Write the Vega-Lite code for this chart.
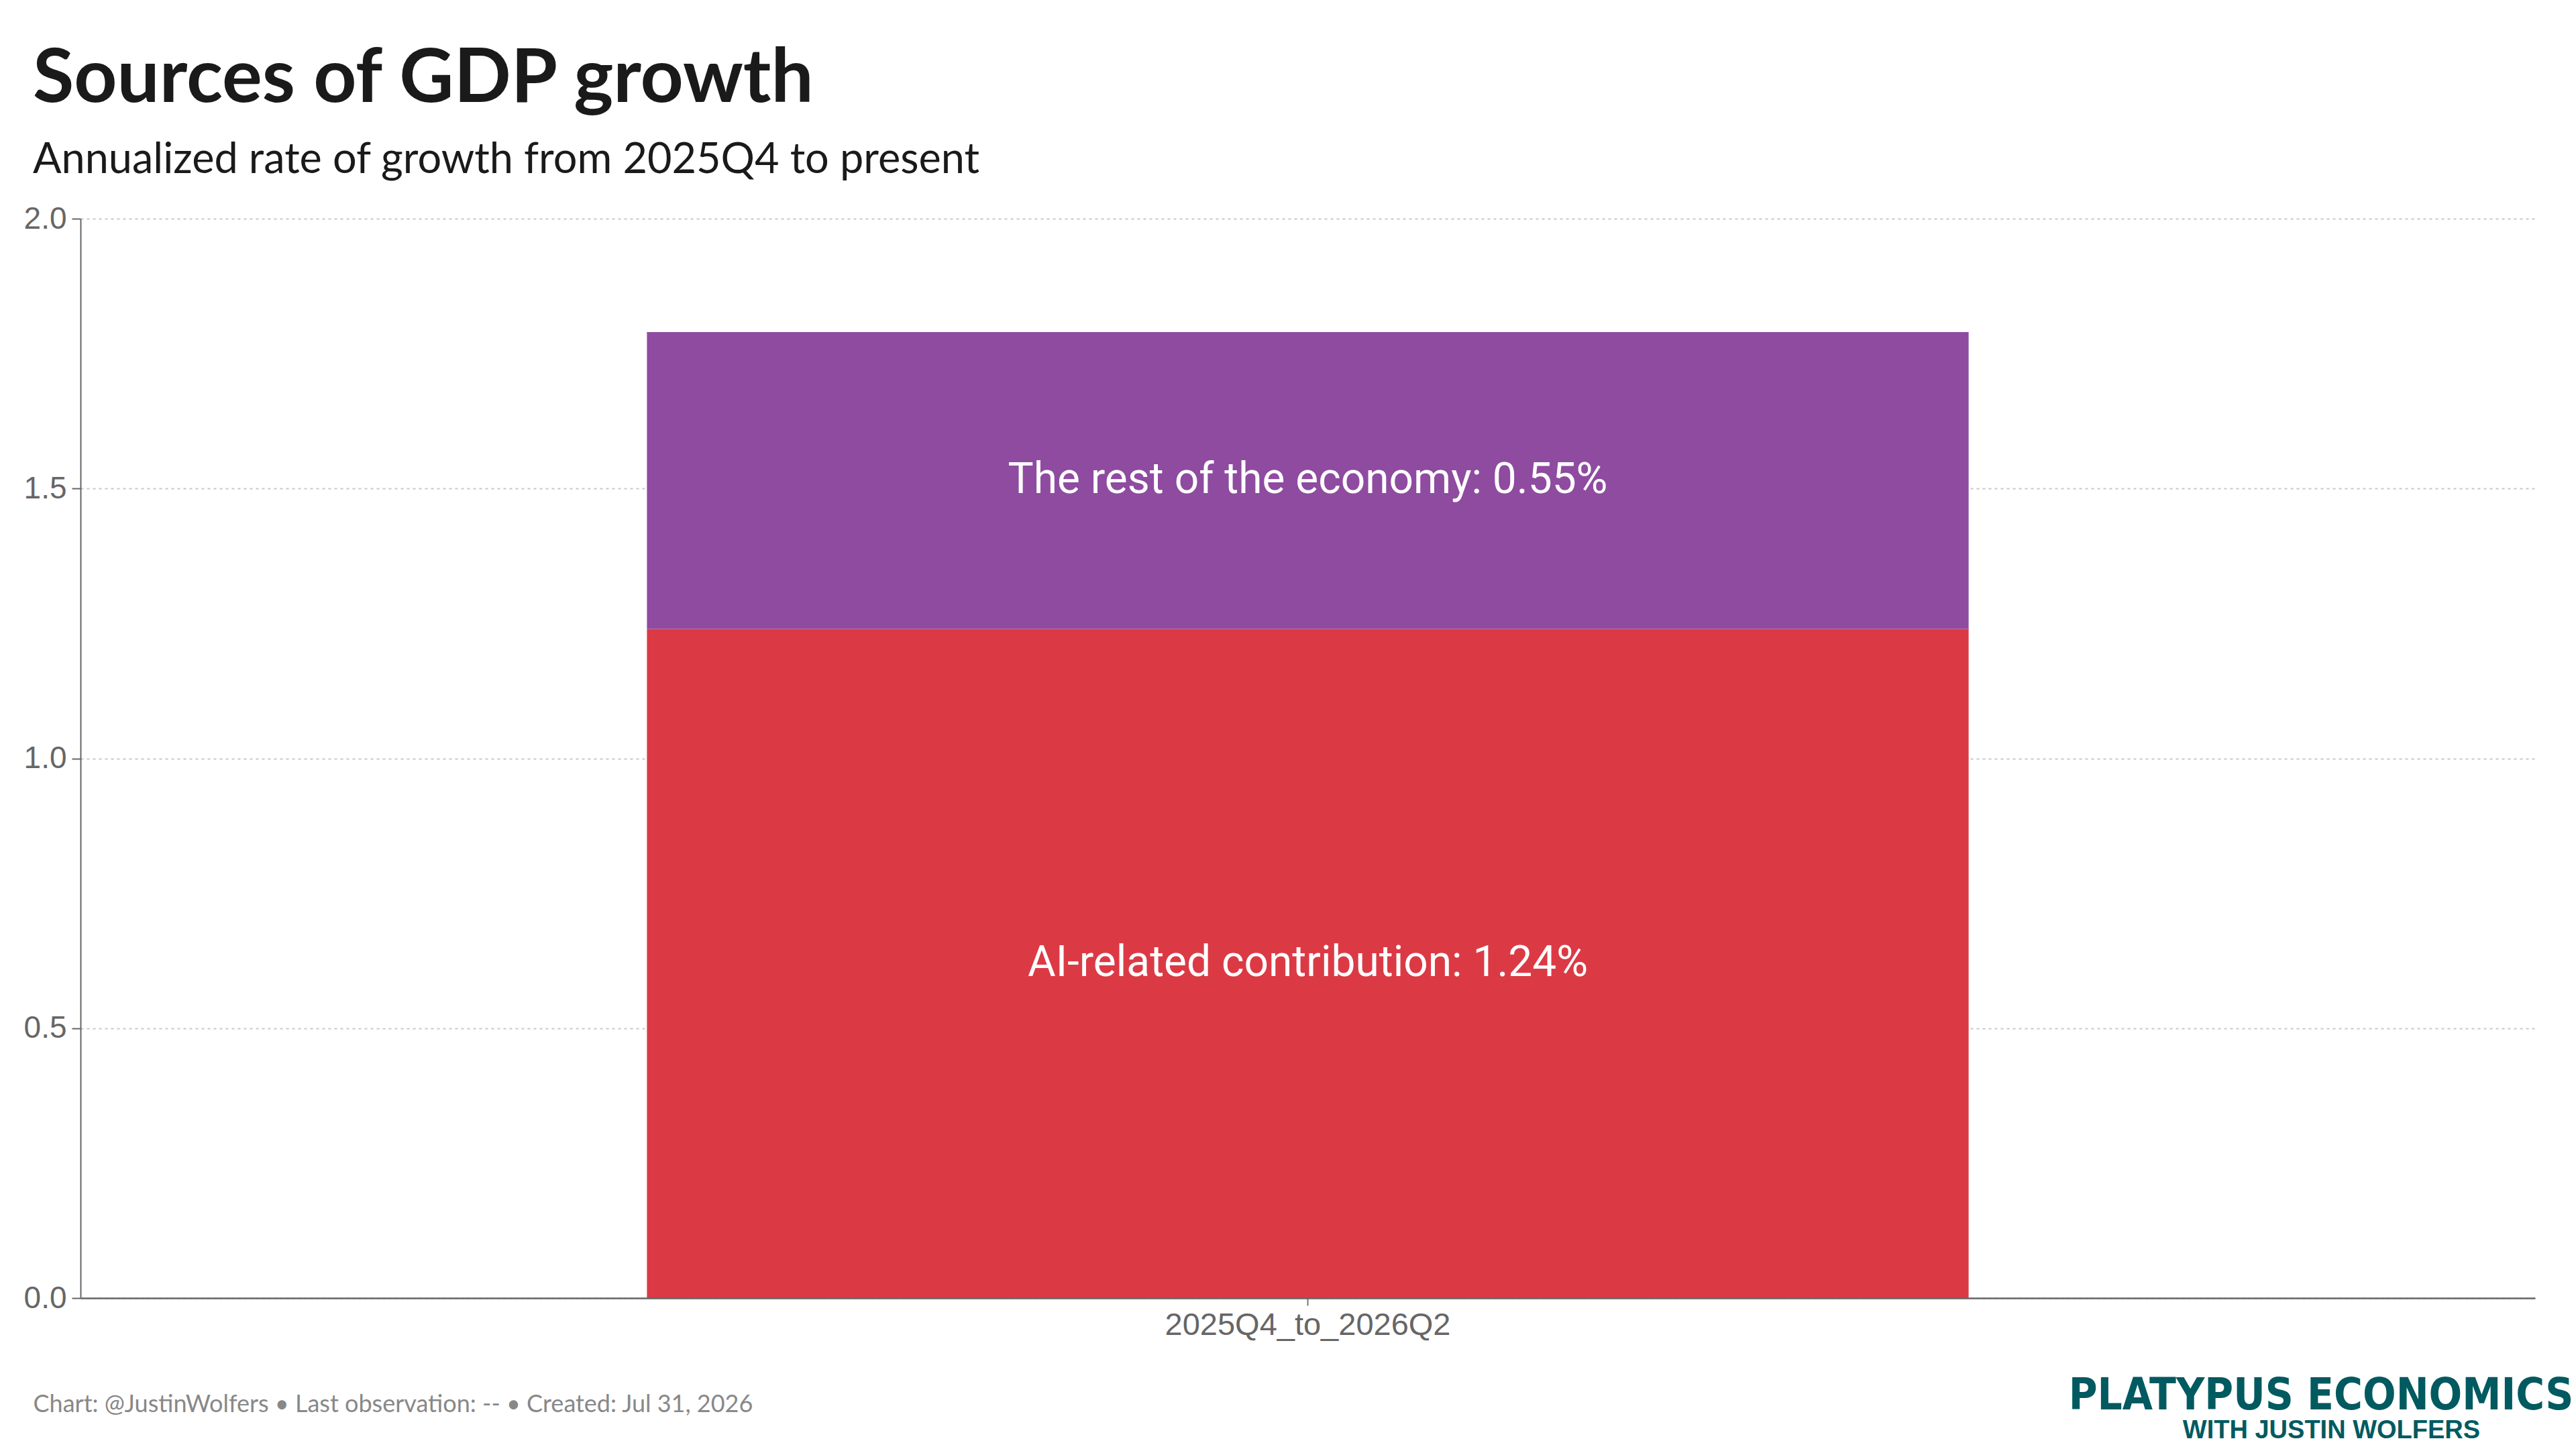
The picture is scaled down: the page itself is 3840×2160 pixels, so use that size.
{
  "$schema": "https://vega.github.io/schema/vega-lite/v6.json",
  "width": 3659,
  "height": 1609,
  "autosize": {"type": "none"},
  "padding": {"left": 120, "top": 326, "right": 61, "bottom": 225},
  "background": "white",
  "title": {
    "text": "Sources of GDP growth",
    "subtitle": "Annualized rate of growth from 2025Q4 to present",
    "anchor": "start",
    "frame": "group",
    "dx": -71,
    "offset": 30,
    "font": "Lato",
    "fontSize": 112,
    "fontWeight": "bold",
    "color": "#1a1a1a",
    "subtitleFont": "Lato",
    "subtitleFontSize": 63,
    "subtitleColor": "#1a1a1a",
    "subtitlePadding": 32
  },
  "data": {
    "values": [
      {"period": "2025Q4_to_2026Q2", "component": "AI-related contribution", "value": 1.24, "label": "AI-related contribution: 1.24%"},
      {"period": "2025Q4_to_2026Q2", "component": "The rest of the economy", "value": 0.55, "label": "The rest of the economy: 0.55%"}
    ]
  },
  "config": {"view": {"stroke": null}},
  "layer": [
    {
      "mark": {"type": "bar"},
      "encoding": {
        "x": {
          "field": "period",
          "type": "nominal",
          "scale": {"paddingInner": 0.3, "paddingOuter": 0.3},
          "axis": {
            "labelAngle": 0,
            "labelLimit": 0,
            "labelFont": "Liberation Sans",
            "labelFontSize": 47,
            "labelColor": "#666666",
            "labelPadding": 6,
            "tickSize": 11,
            "tickColor": "#777777",
            "tickWidth": 2,
            "domainColor": "#666666",
            "domainWidth": 2.5,
            "grid": false,
            "zindex": 1,
            "title": "Chart: @JustinWolfers • Last observation: -- • Created: Jul 31, 2026",
            "titleFont": "Lato",
            "titleFontSize": 36,
            "titleFontWeight": "normal",
            "titleColor": "#888888",
            "titleAlign": "left",
            "titleBaseline": "alphabetic",
            "titleX": -71,
            "titleY": 169
          }
        },
        "y": {
          "field": "value",
          "type": "quantitative",
          "stack": "zero",
          "scale": {"domain": [0, 2], "nice": false},
          "axis": {
            "title": null,
            "values": [0, 0.5, 1, 1.5, 2],
            "format": ".1f",
            "labelFont": "Liberation Sans",
            "labelFontSize": 46,
            "labelColor": "#666666",
            "labelPadding": 8,
            "tickSize": 13,
            "tickColor": "#666666",
            "tickWidth": 2,
            "domainColor": "#666666",
            "domainWidth": 2,
            "grid": true,
            "gridColor": "#c8c8c8",
            "gridDash": [4, 5],
            "gridWidth": 2
          }
        },
        "color": {
          "field": "component",
          "type": "nominal",
          "scale": {"domain": ["AI-related contribution", "The rest of the economy"], "range": ["#DB3A45", "#8E4BA0"]},
          "legend": null
        },
        "order": {"field": "component", "type": "nominal", "sort": "ascending"}
      }
    },
    {
      "mark": {"type": "text", "font": "Roboto", "fontSize": 64, "color": "white", "align": "center", "baseline": "middle"},
      "encoding": {
        "x": {
          "field": "period",
          "type": "nominal",
          "axis": {
            "orient": "top",
            "title": "WITH JUSTIN WOLFERS",
            "labels": false,
            "ticks": false,
            "domain": false,
            "grid": false,
            "titleAlign": "center",
            "titleBaseline": "alphabetic",
            "titleX": 3355,
            "titleY": 1817,
            "titleFont": "Liberation Sans",
            "titleFontWeight": "bold",
            "titleFontSize": 38,
            "titleColor": "#005A60"
          }
        },
        "y": {
          "field": "value",
          "type": "quantitative",
          "stack": "zero",
          "bandPosition": 0.5,
          "axis": {
            "orient": "right",
            "title": "PLATYPUS ECONOMICS",
            "labels": false,
            "ticks": false,
            "domain": false,
            "grid": false,
            "titleAngle": 0,
            "titleAlign": "right",
            "titleBaseline": "alphabetic",
            "titleX": 57,
            "titleY": 1774,
            "titleFont": "Liberation Sans Narrow, DejaVu Sans Condensed, Liberation Sans",
            "titleFontWeight": "bold",
            "titleFontSize": 65,
            "titleColor": "#005A60"
          }
        },
        "detail": {"field": "component", "type": "nominal"},
        "order": {"field": "component", "type": "nominal", "sort": "ascending"},
        "text": {"field": "label", "type": "nominal"}
      }
    }
  ],
  "resolve": {"axis": {"x": "independent", "y": "independent"}}
}
